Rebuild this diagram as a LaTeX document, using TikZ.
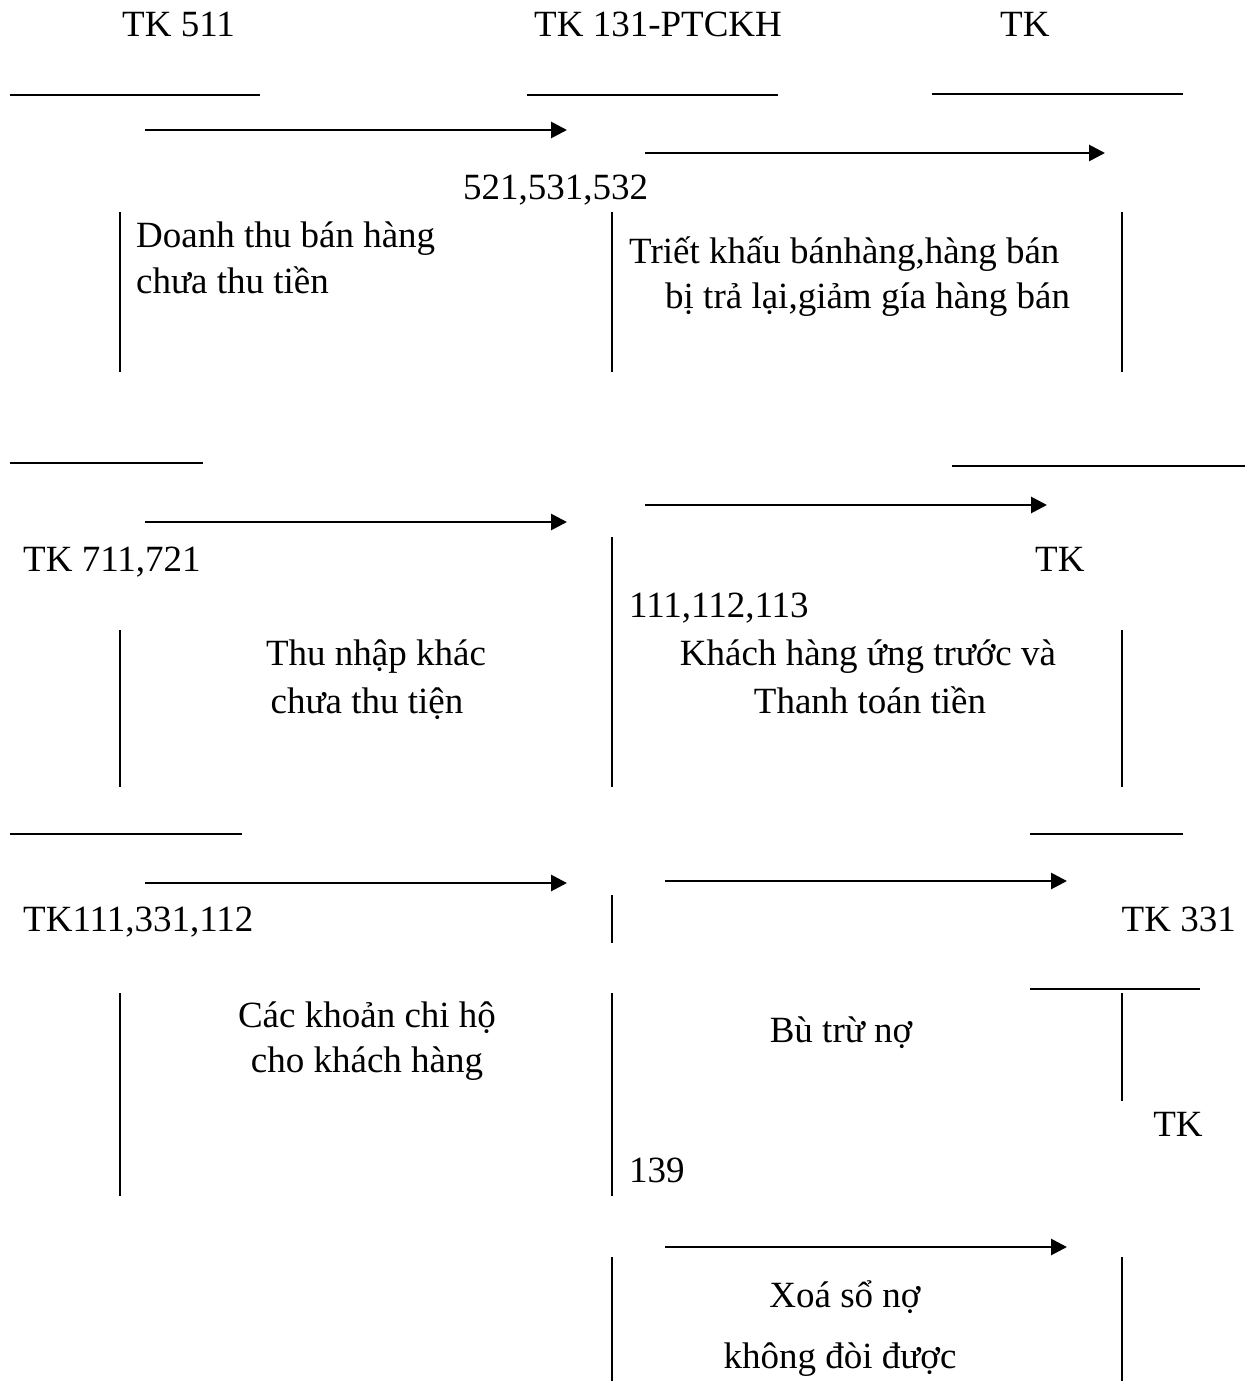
\documentclass[tikz,border=0pt]{standalone}
\usepackage{fontspec}
\setmainfont{Liberation Serif}
\usetikzlibrary{arrows.meta}
\tikzset{
  lbl/.style={inner sep=0pt, font=\fontsize{37}{44}\selectfont},
  rule/.style={line width=2.2pt},
  vrule/.style={line width=1.6pt},
  arr/.style={line width=2.8pt, -{Triangle[length=16pt,width=16pt]}}
}
\begin{document}
\begin{tikzpicture}[x=1pt,y=-1pt]
\useasboundingbox (0,0) rectangle (1248,1381);
% ---- row 1 ----
\node[lbl,anchor=base west] (tk511) at (122,37) {TK 511};
\node[lbl,anchor=base west] (tk131) at (534,37) {TK 131-PTCKH};
\node[lbl,anchor=base west] (tkA) at (1000,37) {TK};
\coordinate (h1a) at (10,95);   \coordinate (h1b) at (260,95);
\coordinate (h2a) at (527,95);  \coordinate (h2b) at (778,95);
\coordinate (h3a) at (932,94);  \coordinate (h3b) at (1183,94);
\draw[rule] (h1a) -- (h1b);
\draw[rule] (h2a) -- (h2b);
\draw[rule] (h3a) -- (h3b);
\coordinate (a1s) at (145,130); \coordinate (a1e) at (567,130);
\coordinate (a2s) at (645,153); \coordinate (a2e) at (1105,153);
\draw[arr] (a1s) -- (a1e);
\draw[arr] (a2s) -- (a2e);
\node[lbl,anchor=base west] (n521) at (463,199) {521,531,532};
\coordinate (v1a) at (120,212); \coordinate (v1b) at (120,372);
\coordinate (v2a) at (612,212); \coordinate (v2b) at (612,372);
\coordinate (v3a) at (1122,212); \coordinate (v3b) at (1122,372);
\draw[vrule] (v1a) -- (v1b);
\draw[vrule] (v2a) -- (v2b);
\draw[vrule] (v3a) -- (v3b);
\node[lbl,anchor=base west] (dt1) at (136,247) {Doanh thu bán hàng};
\node[lbl,anchor=base west] (dt2) at (136,293) {chưa thu tiền};
\node[lbl,anchor=base west] (ck1) at (629,263) {Triết khấu bánhàng,hàng bán};
\node[lbl,anchor=base west] (ck2) at (665,308) {bị trả lại,giảm gía hàng bán};
% ---- row 2 ----
\coordinate (h4a) at (10,463);  \coordinate (h4b) at (203,463);
\coordinate (h5a) at (952,466); \coordinate (h5b) at (1245,466);
\draw[rule] (h4a) -- (h4b);
\draw[rule] (h5a) -- (h5b);
\coordinate (a3s) at (145,522); \coordinate (a3e) at (567,522);
\coordinate (a4s) at (645,505); \coordinate (a4e) at (1047,505);
\draw[arr] (a3s) -- (a3e);
\draw[arr] (a4s) -- (a4e);
\node[lbl,anchor=base west] (tk711) at (23,571) {TK 711,721};
\node[lbl,anchor=base west] (tkB) at (1035,571) {TK};
\node[lbl,anchor=base west] (n111) at (629,617) {111,112,113};
\coordinate (v4a) at (612,537); \coordinate (v4b) at (612,787);
\coordinate (v5a) at (120,630); \coordinate (v5b) at (120,787);
\coordinate (v6a) at (1122,630); \coordinate (v6b) at (1122,787);
\draw[vrule] (v4a) -- (v4b);
\draw[vrule] (v5a) -- (v5b);
\draw[vrule] (v6a) -- (v6b);
\node[lbl,anchor=base] (tn1) at (376,665) {Thu nhập khác};
\node[lbl,anchor=base] (tn2) at (367,713) {chưa thu tiện};
\node[lbl,anchor=base] (kh1) at (868,665) {Khách hàng ứng trước và};
\node[lbl,anchor=base] (kh2) at (870,713) {Thanh toán tiền};
% ---- row 3 ----
\coordinate (h6a) at (10,834);   \coordinate (h6b) at (242,834);
\coordinate (h7a) at (1030,834); \coordinate (h7b) at (1183,834);
\draw[rule] (h6a) -- (h6b);
\draw[rule] (h7a) -- (h7b);
\coordinate (a5s) at (145,883); \coordinate (a5e) at (567,883);
\coordinate (a6s) at (665,881); \coordinate (a6e) at (1067,881);
\draw[arr] (a5s) -- (a5e);
\draw[arr] (a6s) -- (a6e);
\node[lbl,anchor=base west] (tk111) at (23,931) {TK111,331,112};
\node[lbl,anchor=base east] (tk331) at (1236,931) {TK 331};
\coordinate (v7a) at (612,895); \coordinate (v7b) at (612,943);
\draw[vrule] (v7a) -- (v7b);
\coordinate (h8a) at (1030,989); \coordinate (h8b) at (1200,989);
\draw[rule] (h8a) -- (h8b);
\coordinate (v8a) at (1122,993); \coordinate (v8b) at (1122,1101);
\coordinate (v9a) at (120,993);  \coordinate (v9b) at (120,1196);
\coordinate (v10a) at (612,993); \coordinate (v10b) at (612,1196);
\draw[vrule] (v8a) -- (v8b);
\draw[vrule] (v9a) -- (v9b);
\draw[vrule] (v10a) -- (v10b);
\node[lbl,anchor=base] (ck3) at (367,1027) {Các khoản chi hộ};
\node[lbl,anchor=base] (ck4) at (367,1072) {cho khách hàng};
\node[lbl,anchor=base] (bt) at (841,1042) {Bù trừ nợ};
\node[lbl,anchor=base] (tkC) at (1178,1136) {TK};
\node[lbl,anchor=base west] (n139) at (629,1182) {139};
% ---- row 4 ----
\coordinate (a7s) at (665,1247); \coordinate (a7e) at (1067,1247);
\draw[arr] (a7s) -- (a7e);
\coordinate (v11a) at (612,1257); \coordinate (v11b) at (612,1381);
\coordinate (v12a) at (1122,1257); \coordinate (v12b) at (1122,1381);
\draw[vrule] (v11a) -- (v11b);
\draw[vrule] (v12a) -- (v12b);
\node[lbl,anchor=base] (xs1) at (845,1307) {Xoá sổ nợ};
\node[lbl,anchor=base] (xs2) at (840,1368) {không đòi được};
\end{tikzpicture}
\end{document}
